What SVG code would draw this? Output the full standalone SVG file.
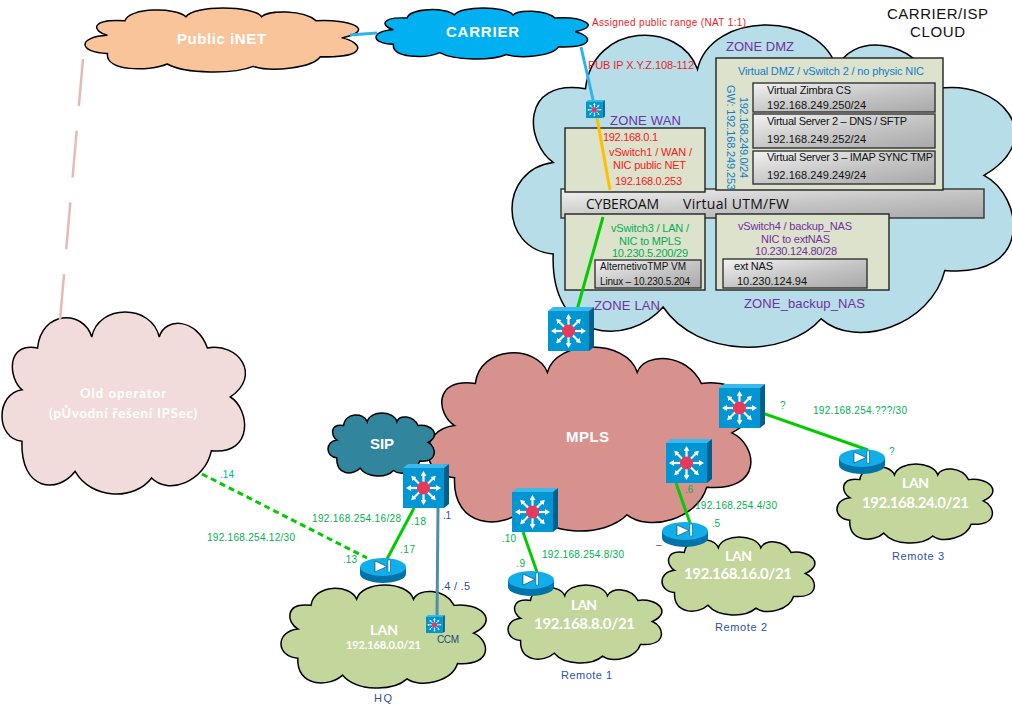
<svg xmlns="http://www.w3.org/2000/svg" width="1012" height="712" viewBox="0 0 1012 712" font-size="10">
<style>
text{font-family:"Liberation Sans",Arial,sans-serif}
.cl{stroke:#000;stroke-width:1.5}
.wb{fill:#fff;font-weight:700;font-size:15px}
text.lt{font-family:Lato,"Open Sans",sans-serif;fill:#fff;font-weight:700}
text.cy{font-family:"Open Sans",sans-serif;fill:#111;font-size:14px}
.r{fill:#f01c1c}.g{fill:#00b050}.p{fill:#7030a0}.b{fill:#0f7ccb}.n{fill:#2e4fa8}.k{fill:#111}
.z{font-size:13px;fill:#7030a0}
.pan{fill:#dde2cc;stroke:#222;stroke-width:1.4}
.box{fill:url(#gr);stroke:#333;stroke-width:1.4}
.c{fill:none;stroke-linecap:butt}
.gl{stroke:#00cc00;stroke-width:3}
.bl{stroke:#2db4ec;stroke-width:3}
</style>
<defs>
<linearGradient id="gr" x1="0" y1="0" x2="1" y2="1"><stop offset="0" stop-color="#f2f2f2"/><stop offset="0.55" stop-color="#c4c4c4"/><stop offset="1" stop-color="#a8a8a8"/></linearGradient>
<marker id="ah" markerUnits="userSpaceOnUse" markerWidth="6" markerHeight="6" refX="1" refY="3" orient="auto"><path d="M0,0L5,3L0,6Z" fill="#fff"/></marker>
<path id="cloud" vector-effect="non-scaling-stroke" d="M107,108C118,-5 245,-8 270,75C290,-25 450,-25 473,75C490,15 585,17 618,108C710,90 783,190 687,255C745,290 760,430 630,416C610,510 500,550 450,498C400,565 270,565 220,478C170,545 55,540 60,388C-20,380 -20,245 60,233C20,200 10,90 107,108Z"/>
<g id="sw">
<polygon points="0,4 5,0 46,0 41,4" fill="#3bb8ec"/>
<polygon points="41,4 46,0 46,40 41,44" fill="#005f8c"/>
<rect x="0" y="4" width="41" height="40" fill="#0095d3"/>
<g stroke="#fff" stroke-width="2.2" marker-end="url(#ah)">
<line x1="20.500" y1="24" x2="20.500" y2="11"/><line x1="20.500" y1="24" x2="20.500" y2="37"/>
<line x1="20.500" y1="24" x2="7" y2="24"/><line x1="20.500" y1="24" x2="34" y2="24"/>
<line x1="20.500" y1="24" x2="11" y2="14.500"/><line x1="20.500" y1="24" x2="30" y2="14.500"/>
<line x1="20.500" y1="24" x2="11" y2="33.500"/><line x1="20.500" y1="24" x2="30" y2="33.500"/>
</g>
<circle cx="20.500" cy="24" r="6.500" fill="#e8395c"/>
</g>
<g id="rt">
<path d="M0,9V16A23,9 0 0 0 46,16V9Z" fill="#0073a8"/>
<ellipse cx="23" cy="9" rx="23" ry="9" fill="#12aeea"/>
<polygon points="15,3 27,8.500 15,14" fill="#fff" stroke="#003c58" stroke-width="0.6"/>
<rect x="28" y="2" width="2.200" height="12" fill="#fff" stroke="#003c58" stroke-width="0.4"/>
</g>
</defs>

<g id="cloud-isp"><use href="#cloud" class="cl" fill="#b7dde8" transform="translate(512 25) scale(.687 .59)"/></g>
<g id="cloud-public"><use href="#cloud" class="cl" fill="#f9c499" transform="translate(85 8) scale(.3736 .1172)"/>
<text class="wb" x="177" y="44" textLength="89">Public iNET</text></g>
<g id="cloud-carrier"><use href="#cloud" class="cl" fill="#00b0f0" transform="translate(376 8) scale(.2898 .0934)"/>
<text class="wb" x="446" y="37" textLength="73">CARRIER</text></g>
<g id="cloud-old"><use href="#cloud" class="cl" fill="#f2dcdb" transform="translate(2 312) scale(.3324 .3333)"/>
<text class="lt" font-size="13" x="80" y="398" textLength="86">Old operator</text>
<text class="lt" font-size="13" x="49" y="418" textLength="148">(pŮvodní řešení IPSec)</text></g>
<g id="cloud-mpls"><use href="#cloud" class="cl" fill="#d7928e" transform="translate(428 347) scale(.4423 .337)"/>
<text class="wb" x="566" y="442" textLength="43">MPLS</text></g>
<g id="cloud-sip"><use href="#cloud" class="cl" fill="#31859c" transform="translate(328 413) scale(.1456 .1154)"/>
<text class="wb" x="370" y="449" textLength="24">SIP</text></g>
<g id="cloud-hq"><use href="#cloud" class="cl" fill="#c3d69b" transform="translate(281 585) scale(.2802 .1886)"/>
<text class="lt" font-size="14" x="370" y="635" textLength="28">LAN</text>
<text class="lt" font-size="11" x="346" y="649" textLength="75">192.168.0.0/21</text>
<text class="n" x="374" y="702" textLength="18" font-size="11">HQ</text></g>
<g id="cloud-r1"><use href="#cloud" class="cl" fill="#c3d69b" transform="translate(508 585) scale(.2102 .1429)"/>
<text class="lt" font-size="14" x="571" y="610" textLength="26">LAN</text>
<text class="lt" font-size="15" x="534" y="629" textLength="101">192.168.8.0/21</text>
<text class="n" x="561" y="679" textLength="51" font-size="11">Remote 1</text></g>
<g id="cloud-r2"><use href="#cloud" class="cl" fill="#c3d69b" transform="translate(662 537) scale(.2088 .1429)"/>
<text class="lt" font-size="14" x="725" y="561" textLength="27">LAN</text>
<text class="lt" font-size="15" x="684" y="579" textLength="108">192.168.16.0/21</text>
<text class="n" x="715" y="631" textLength="52" font-size="11">Remote 2</text></g>
<g id="cloud-r3"><use href="#cloud" class="cl" fill="#c3d69b" transform="translate(837 464) scale(.2129 .1447)"/>
<text class="lt" font-size="14" x="902" y="488" textLength="27">LAN</text>
<text class="lt" font-size="15" x="862" y="508" textLength="107">192.168.24.0/21</text>
<text class="n" x="892" y="560" textLength="52" font-size="11">Remote 3</text></g>

<g id="cyberoam"><rect x="561" y="189" width="423" height="29" class="box"/>
<text class="cy" x="586" y="209" textLength="73">CYBEROAM</text>
<text class="cy" x="683" y="209" textLength="106">Virtual UTM/FW</text></g>

<g id="zone-wan"><rect x="565" y="128" width="140" height="64" class="pan"/>
<text class="z" x="610" y="125" textLength="71">ZONE WAN</text>
<text class="r" font-size="11" x="603" y="141" textLength="55">192.168.0.1</text>
<text class="r" font-size="11" x="609" y="156" textLength="83">vSwitch1 / WAN /</text>
<text class="r" font-size="11" x="613" y="169" textLength="73">NIC public NET</text>
<text class="r" font-size="11" x="615" y="185" textLength="67">192.168.0.253</text></g>

<g id="zone-dmz"><rect x="716" y="58" width="227" height="132" class="pan"/>
<text class="z" x="726" y="51" textLength="68">ZONE DMZ</text>
<text class="b" font-size="11" x="738" y="75" textLength="186">Virtual DMZ / vSwitch 2 / no physic NIC</text>
<text class="b" font-size="11" transform="translate(740 97) rotate(90)" textLength="81">192.168.249.0/24</text>
<text class="b" font-size="11" transform="translate(727 85) rotate(90)" textLength="105">GW: 192.168.249.253</text></g>
<g id="srv-zimbra"><rect x="753" y="83" width="182" height="29" class="box"/>
<text class="k" font-size="11" x="767" y="94" textLength="84">Virtual Zimbra CS</text>
<text class="k" font-size="11" x="767" y="109" textLength="99">192.168.249.250/24</text></g>
<g id="srv-2"><rect x="753" y="114" width="182" height="34" class="box"/>
<text class="k" font-size="11" x="767" y="125" textLength="140">Virtual Server 2 – DNS / SFTP</text>
<text class="k" font-size="11" x="767" y="143" textLength="99">192.168.249.252/24</text></g>
<g id="srv-3"><rect x="753" y="151" width="182" height="33" class="box"/>
<text class="k" font-size="11" x="767" y="161" textLength="166">Virtual Server 3 – IMAP SYNC TMP</text>
<text class="k" font-size="11" x="767" y="179" textLength="99">192.168.249.249/24</text></g>

<g id="zone-lan"><rect x="565" y="214" width="140" height="76" class="pan"/>
<text class="g" font-size="11" x="611" y="232" textLength="78">vSwitch3 / LAN /</text>
<text class="g" font-size="11" x="619" y="245" textLength="62">NIC to MPLS</text>
<text class="g" font-size="11" x="612" y="257" textLength="76">10.230.5.200/29</text>
<text class="z" x="594" y="310" textLength="66">ZONE LAN</text></g>
<g id="vm-alt"><rect x="595" y="260" width="106" height="28" class="box"/>
<text class="k" x="600" y="270" textLength="86">AlternetivoTMP VM</text>
<text class="k" x="600" y="285" textLength="90">Linux – 10.230.5.204</text></g>

<g id="zone-nas"><rect x="716" y="214" width="173" height="76" class="pan"/>
<text class="p" font-size="11" x="738" y="230" textLength="114">vSwitch4 / backup_NAS</text>
<text class="p" font-size="11" x="761" y="243" textLength="69">NIC to extNAS</text>
<text class="p" font-size="11" x="755" y="255" textLength="82">10.230.124.80/28</text>
<text class="z" x="744" y="308" textLength="121">ZONE_backup_NAS</text></g>
<g id="ext-nas"><rect x="723" y="259" width="144" height="29" class="box"/>
<text class="k" font-size="11" x="734" y="270" textLength="39">ext NAS</text>
<text class="k" font-size="11" x="737" y="285" textLength="70">10.230.124.94</text></g>

<g id="connectors" class="c">
<line x1="350" y1="35" x2="377" y2="33" class="bl"/>
<line x1="581" y1="47" x2="594" y2="104" class="bl"/>
<line x1="597" y1="118" x2="610" y2="190" stroke="#ffc000" stroke-width="3"/>
<line x1="603" y1="217" x2="577" y2="310" class="gl"/>
<line x1="83" y1="59" x2="60" y2="320" stroke="#e6b9b8" stroke-width="2.500" stroke-dasharray="47 25"/>
<line x1="202" y1="474" x2="367" y2="558" stroke="#00cc00" stroke-width="3" stroke-dasharray="6 4"/>
<line x1="414" y1="508" x2="387" y2="559" class="gl"/>
<line x1="438" y1="508" x2="437" y2="618" stroke="#4a90a8" stroke-width="3"/>
<line x1="523" y1="532" x2="537" y2="572" class="gl"/>
<line x1="676" y1="483" x2="690" y2="523" class="gl"/>
<line x1="762" y1="413" x2="868" y2="450" class="gl"/>
</g>

<g id="sw-wan"><use href="#sw" transform="translate(586 100) scale(.41)"/></g>
<g id="sw-lan"><use href="#sw" transform="translate(548 307)"/></g>
<g id="sw-hq"><use href="#sw" transform="translate(403 464)"/></g>
<g id="sw-r1"><use href="#sw" transform="translate(512 488)"/></g>
<g id="sw-r2"><use href="#sw" transform="translate(666 439)"/></g>
<g id="sw-r3"><use href="#sw" transform="translate(719 384)"/></g>
<g id="sw-ccm"><use href="#sw" transform="translate(426 615) scale(.41)"/>
<text fill="#1f497d" x="437" y="643" textLength="22">CCM</text></g>
<g id="rt-hq"><use href="#rt" transform="translate(360 558)"/></g>
<g id="rt-r1"><use href="#rt" transform="translate(508 571)"/></g>
<g id="rt-r2"><use href="#rt" transform="translate(662 522)"/></g>
<g id="rt-r3"><use href="#rt" transform="translate(839 449)"/></g>

<g id="labels">
<text class="r" x="592" y="26" textLength="154">Assigned public range (NAT 1:1)</text>
<text class="r" font-size="11" x="588" y="69" textLength="106">PUB IP X.Y.Z.108-112</text>
<text font-size="15" fill="#111" x="887" y="19" textLength="101">CARRIER/ISP</text>
<text font-size="15" fill="#111" x="910" y="37" textLength="55">CLOUD</text>
<text fill="#00b0a0" x="220" y="478" textLength="14">.14</text>
<text class="g" x="207" y="541" textLength="88">192.168.254.12/30</text>
<text class="g" x="312" y="522" textLength="89">192.168.254.16/28</text>
<text class="g" x="411" y="525" textLength="15">.18</text>
<text class="g" x="400" y="553" textLength="15">.17</text>
<text class="g" x="343" y="563" textLength="14">.13</text>
<text class="n" x="443" y="519" textLength="8">.1</text>
<text class="n" font-size="11" x="441" y="590" textLength="29">.4 / .5</text>
<text class="g" x="502" y="542" textLength="14">.10</text>
<text class="g" x="516" y="567" textLength="9">.9</text>
<text class="g" x="542" y="558" textLength="82">192.168.254.8/30</text>
<text class="g" x="685" y="493" textLength="8">.6</text>
<text class="g" x="695" y="509" textLength="82">192.168.254.4/30</text>
<text class="g" x="712" y="527" textLength="8">.5</text>
<text class="g" x="780" y="409" textLength="6">?</text>
<text class="g" x="813" y="414" textLength="94">192.168.254.???/30</text>
<text class="g" x="889" y="455" textLength="5">?</text>
<text fill="#555" x="656" y="548" textLength="6">–</text>
</g>
</svg>
